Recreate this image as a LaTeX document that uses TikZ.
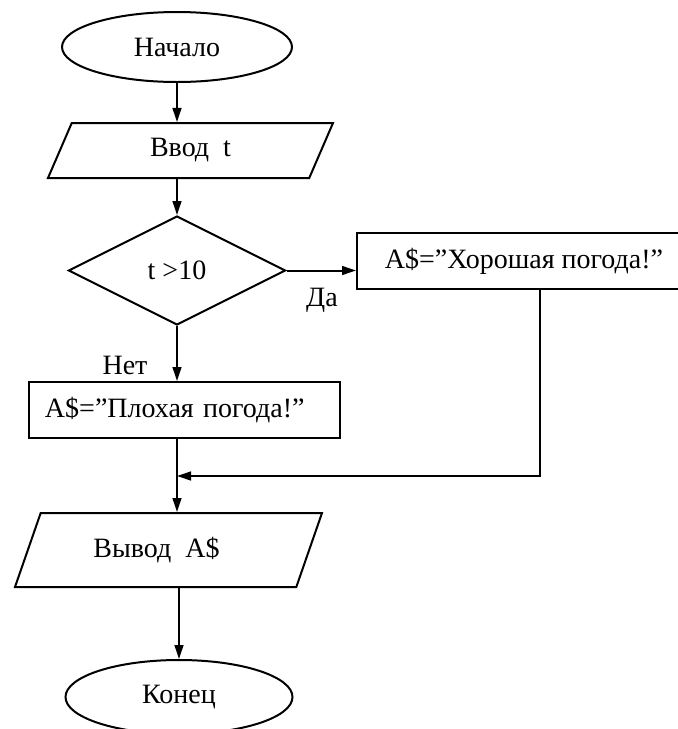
\documentclass[tikz,border=0pt]{standalone}
\usepackage{fontspec}
\setmainfont{Liberation Serif}
\usetikzlibrary{shapes.geometric,arrows.meta}

\begin{document}
\begin{tikzpicture}[x=.5pt,y=-.5pt, line width=1pt,
  font=\fontsize{14}{16}\selectfont,
  >={Triangle[length=7pt,width=4.4pt]},
  term/.style={draw, ellipse, inner sep=0pt, minimum width=115pt, minimum height=35pt},
  iobox/.style={draw, trapezium, trapezium left angle=45, trapezium right angle=135,
    trapezium stretches body, inner sep=0pt},
  procbox/.style={draw, rectangle, inner sep=0pt, minimum height=28pt},
  condbox/.style={draw, diamond, aspect=2, inner sep=0pt, minimum width=108.5pt, minimum height=54.5pt}]
\useasboundingbox (0,0) rectangle (677,729);

%%%%%%%%%%%%%-------------blocks
\node[term] (start) at (177,47) {Начало};
\node[iobox, minimum width=142.5pt, minimum height=27.5pt] (in) at (190.5,150.5) {Ввод\ \ t};
\node[condbox] (if) at (177,270.5) {t >10};
\node[procbox, minimum width=167pt] (good) at (524,261) {A\$=”Хорошая погода!”};
\node[procbox, inner xsep=8pt, text width=139.5pt, align=left] (bad) at (184.5,410) {A\$=”Плохая погода!”};
\node[iobox, minimum width=153.5pt, minimum height=37pt] (out) at (168.5,550) {Вывод\ \ A\$\hspace*{12pt}};
\node[term, minimum width=113.5pt, minimum height=37pt] (stop) at (179,697) {Конец};

\node (yes) at (322,300) {Да};
\node (no) at (125,365) {Нет};

\coordinate (turn) at (540,476);
\coordinate (join) at (177,476);

%%%%%%%%%%%%%-------------arrows
\draw[->] (start.south) -- (start.south |- in.north);
\draw[->] (in.south -| if.north) -- (if.north);
\draw[->] (if.east) -- (if.east -| good.west);
\draw[->] (if.south) -- (if.south |- bad.north);
\draw[->] (if.south |- bad.south) -- (if.south |- out.north);
\draw[->] (good.south -| turn) -- (turn) -- (join);
\draw[->] (stop.north |- out.south) -- (stop.north);

\end{tikzpicture}
\end{document}
